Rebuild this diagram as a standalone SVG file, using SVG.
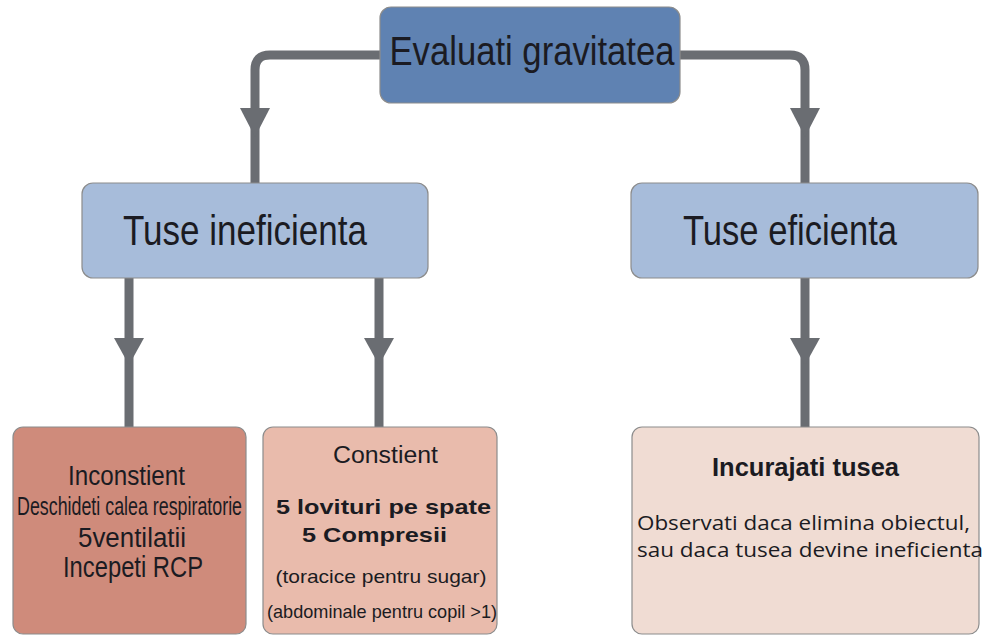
<svg xmlns="http://www.w3.org/2000/svg" width="985" height="636" viewBox="0 0 985 636">
<style>
.box{stroke:#8c8c8c;stroke-width:1.2}
.top{fill:#5f82b2}
.mid{fill:#a7bcda}
.b1{fill:#cf8b7b}
.b2{fill:#e9bbac}
.b3{fill:#f0dcd3}
.conn{fill:none;stroke:#6a6d72;stroke-width:9}
.ah{fill:#6a6d72}
text{font-family:"Liberation Sans",Arial,sans-serif;fill:#1b1b22;text-anchor:middle}
.big{font-size:42px}
.cal{font-family:"Open Sans","Noto Sans",sans-serif;font-size:20px;text-anchor:start}
</style>
<g id="connectors">
<path class="conn" d="M382,55 H270 Q255,55 255,70 V183"/>
<path class="conn" d="M678,55 H790 Q805,55 805,70 V183"/>
<path class="conn" d="M129,278 V427"/>
<path class="conn" d="M379,278 V427"/>
<path class="conn" d="M805,278 V427"/>
<polygon class="ah" points="240,108 270,108 255,137"/>
<polygon class="ah" points="790,108 820,108 805,137"/>
<polygon class="ah" points="114,338 144,338 129,365"/>
<polygon class="ah" points="364,338 394,338 379,365"/>
<polygon class="ah" points="790,338 820,338 805,365"/>
</g>
<g id="evaluati">
<rect class="box top" x="380" y="7" width="300" height="96" rx="11"/>
<text x="532" y="65" font-size="40" textLength="285" lengthAdjust="spacingAndGlyphs">Evaluati gravitatea</text>
</g>
<g id="tuse-ineficienta">
<rect class="box mid" x="82" y="183" width="346" height="95" rx="11"/>
<text class="big" x="245" y="245" textLength="244" lengthAdjust="spacingAndGlyphs">Tuse ineficienta</text>
</g>
<g id="tuse-eficienta">
<rect class="box mid" x="631" y="183" width="347" height="95" rx="11"/>
<text class="big" x="790" y="245" textLength="214" lengthAdjust="spacingAndGlyphs">Tuse eficienta</text>
</g>
<g id="inconstient">
<rect class="box b1" x="13" y="427" width="233" height="207" rx="10"/>
<text x="126.5" y="485" font-size="27" textLength="117" lengthAdjust="spacingAndGlyphs">Inconstient</text>
<text transform="translate(129.5,515) scale(1,1.25)" x="0" y="0" font-size="20" textLength="225" lengthAdjust="spacingAndGlyphs">Deschideti calea respiratorie</text>
<text x="132" y="547" font-size="27" textLength="108" lengthAdjust="spacingAndGlyphs">5ventilatii</text>
<text x="133" y="577" font-size="29" textLength="140" lengthAdjust="spacingAndGlyphs">Incepeti RCP</text>
</g>
<g id="constient">
<rect class="box b2" x="263" y="427" width="234" height="207" rx="10"/>
<text x="385.5" y="463" font-size="23" textLength="105" lengthAdjust="spacingAndGlyphs">Constient</text>
<text x="383.5" y="514" font-size="21" font-weight="bold" textLength="215" lengthAdjust="spacingAndGlyphs">5 lovituri pe spate</text>
<text x="374.5" y="542" font-size="21" font-weight="bold" textLength="145" lengthAdjust="spacingAndGlyphs">5 Compresii</text>
<text x="381" y="583" font-size="19" textLength="211" lengthAdjust="spacingAndGlyphs">(toracice pentru sugar)</text>
<text x="382" y="618" font-size="19" textLength="230" lengthAdjust="spacingAndGlyphs">(abdominale pentru copil &gt;1)</text>
</g>
<g id="incurajati">
<rect class="box b3" x="632" y="427" width="347" height="207" rx="10"/>
<text x="805.5" y="476" font-size="25" font-weight="bold" textLength="187" lengthAdjust="spacingAndGlyphs">Incurajati tusea</text>
<text class="cal" x="637" y="530" textLength="333" lengthAdjust="spacingAndGlyphs">Observati daca elimina obiectul,</text>
<text class="cal" x="637" y="557" textLength="346" lengthAdjust="spacingAndGlyphs">sau daca tusea devine ineficienta</text>
</g>
</svg>
